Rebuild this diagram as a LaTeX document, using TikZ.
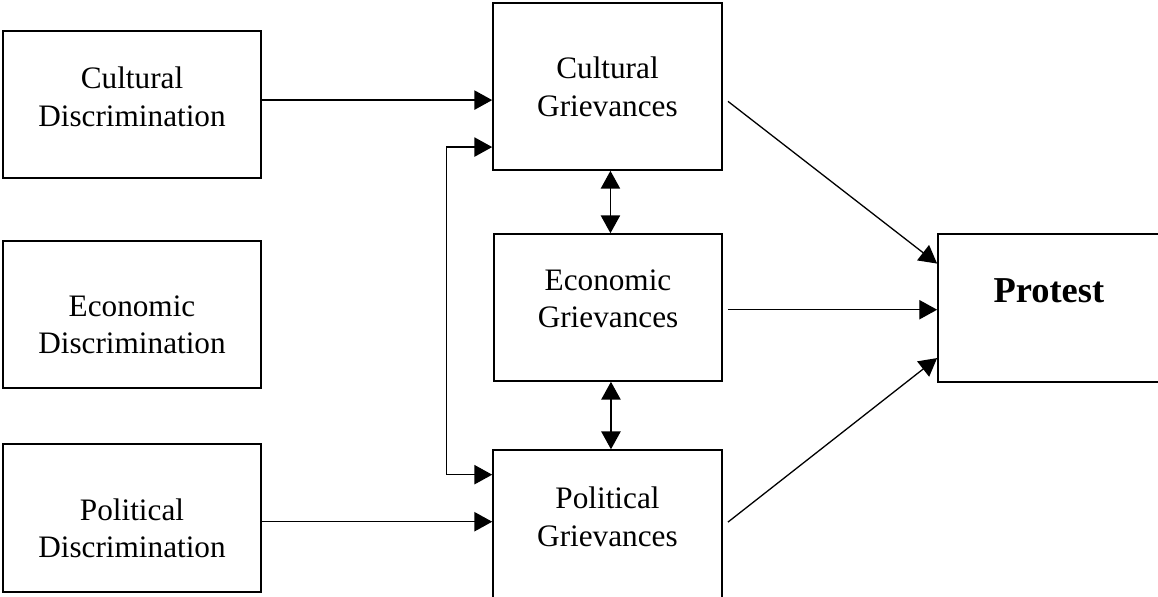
\documentclass[tikz,border=0pt]{standalone}
\usepackage{fontspec}
\setmainfont{Liberation Serif}
\usetikzlibrary{arrows.meta}

\tikzset{
  box/.style={draw, line width=0.6pt, inner sep=0pt},
  txt/.style={align=center, font=\fontsize{12}{14.5}\selectfont},
}

\begin{document}
\begin{tikzpicture}[>={Triangle[length=0.24cm,width=0.26cm]}, line width=0.5pt]
\useasboundingbox (0,0) rectangle (15.633,-8.046);
% boxes

\node[box, minimum width=3.483cm, minimum height=1.985cm] (cd) at (1.782,-1.411) {};
\node[box, minimum width=3.483cm, minimum height=1.985cm] (ed) at (1.782,-4.246) {};
\node[box, minimum width=3.483cm, minimum height=1.998cm] (pd) at (1.782,-6.993) {};
\node[box, minimum width=3.092cm, minimum height=2.255cm] (cg) at (8.201,-1.168) {};
\node[box, minimum width=3.078cm, minimum height=1.985cm] (eg) at (8.208,-4.151) {};
\node[box, minimum width=3.092cm, minimum height=2.025cm] (pg) at (8.201,-7.088) {};
\node[box, minimum width=2.997cm, minimum height=1.998cm] (pr) at (14.160,-4.158) {};

% labels
\node[txt] (cdtxt) at ([yshift=0.108cm]cd.center) {Cultural\\Discrimination};
\node[txt] (edtxt) at ([yshift=-0.140cm]ed.center) {Economic\\Discrimination};
\node[txt] (pdtxt) at ([yshift=-0.138cm]pd.center) {Political\\Discrimination};
\node[txt] (cgtxt) at (cg.center) {Cultural\\Grievances};
\node[txt] (egtxt) at ([yshift=0.116cm]eg.center) {Economic\\Grievances};
\node[txt] (pgtxt) at ([yshift=0.115cm]pg.center) {Political\\Grievances};
\node[font=\fontsize{14}{17}\selectfont\bfseries] (prtxt) at ([yshift=0.238cm]pr.center) {Protest};

% arrows
\draw [->] ([yshift=0.06cm]cd.east) -- ([yshift=0.06cm]cd.east -| cg.west);
\draw [->] ([yshift=-0.05cm]pd.east) -- ([yshift=-0.05cm]pd.east -| pg.west);
\draw [<->] ([yshift=-0.817cm]cg.west) -- ++(-0.62,0) |- ([yshift=0.68cm]pg.west);
\draw [<->] ([xshift=0.04cm]cg.south) -- ([xshift=0.04cm]cg.south |- eg.north);
\draw [<->] ([xshift=0.04cm]eg.south) -- ([xshift=0.04cm]eg.south |- pg.north);
\draw [->] ([xshift=0.07cm,yshift=-0.2cm]cg.east) -- ([yshift=0.6cm]pr.west);
\draw [->] ([xshift=0.07cm,yshift=-0.03cm]eg.east) -- ([yshift=-0.03cm]eg.east -| pr.west);
\draw [->] ([xshift=0.07cm,yshift=0.04cm]pg.east) -- ([yshift=-0.676cm]pr.west);

\end{tikzpicture}
\end{document}
